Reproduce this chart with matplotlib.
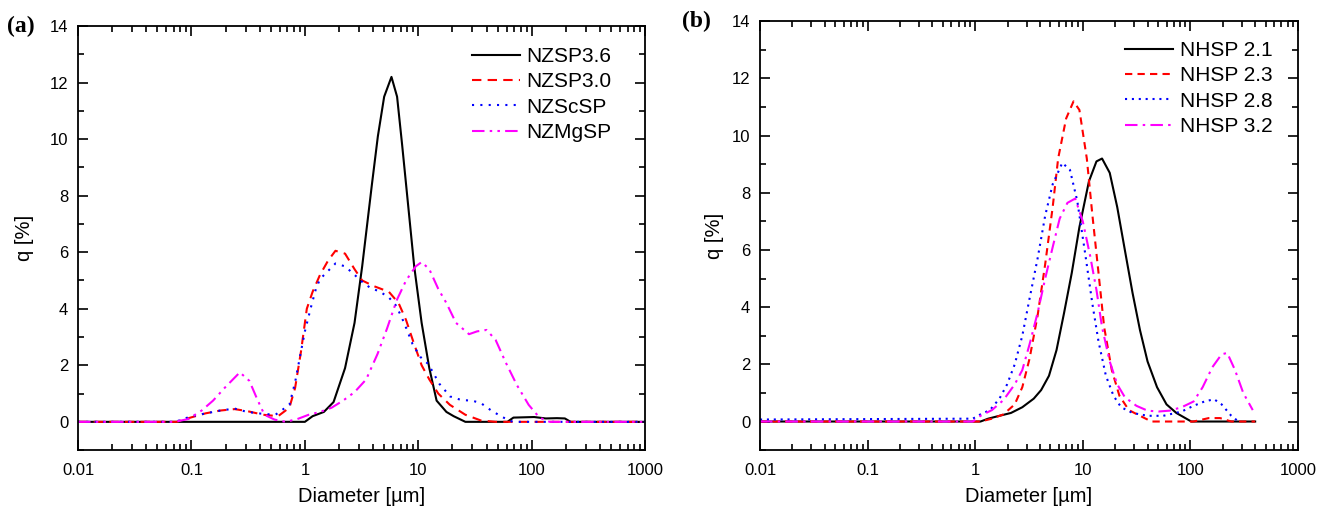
import numpy as np
import matplotlib
matplotlib.use("Agg")
import matplotlib.pyplot as plt
from matplotlib.ticker import FixedLocator, LogLocator, MultipleLocator, FuncFormatter

plt.rcParams['font.family'] = ['Liberation Sans', 'DejaVu Sans']

####################
# Panel (a) values #
####################
nzsp36_d = [0.01, 1.0, 1.17, 1.47, 1.79, 2.26, 2.74, 3.2, 3.9, 4.4, 5.0, 5.8, 6.5, 7.2, 7.8,
            9.2, 10.7, 12.5, 14.5, 17.7, 20.5, 26, 61, 69, 105, 133, 167, 196, 220, 1000]
nzsp36_q = [0, 0, 0.2, 0.35, 0.7, 1.9, 3.5, 5.5, 8.4, 10.1, 11.5, 12.2, 11.5, 9.8, 8.4,
            5.5, 3.5, 1.9, 0.75, 0.35, 0.2, 0, 0, 0.15, 0.17, 0.12, 0.13, 0.12, 0, 0]

nzsp30_d = [0.01, 0.074, 0.098, 0.133, 0.18, 0.24, 0.31, 0.43, 0.58, 0.73, 0.82, 0.925, 1.04,
            1.17, 1.36, 1.6, 1.86, 2.26, 2.74, 3.2, 4.05, 5.5, 6.7, 7.8, 9.1, 10.7, 12.5, 15,
            19, 26, 35.5, 48, 1000]
nzsp30_q = [0, 0, 0.15, 0.3, 0.4, 0.45, 0.38, 0.25, 0.2, 0.5, 1.2, 2.5, 4.0,
            4.6, 5.2, 5.7, 6.05, 5.95, 5.4, 5.0, 4.8, 4.6, 4.2, 3.6, 2.8, 2.0, 1.5, 1.0,
            0.6, 0.25, 0.05, 0, 0]

nzscsp_d = [0.01, 0.072, 0.1, 0.18, 0.24, 0.31, 0.43, 0.55, 0.62, 0.73, 0.82, 0.925, 1.0,
            1.13, 1.25, 1.36, 1.86, 2.26, 2.74, 3.2, 3.74, 4.6, 5.5, 6.4, 7.5, 8.9, 10.4,
            12.2, 13.7, 15.3, 16.5, 19, 24, 30, 36, 44, 55, 68, 1000]
nzscsp_q = [0, 0, 0.2, 0.4, 0.47, 0.35, 0.28, 0.25, 0.4, 0.6, 1.4, 2.5, 3.2,
            4.05, 4.7, 5.05, 5.6, 5.5, 5.2, 4.95, 4.75, 4.6, 4.4, 4.1, 3.5, 2.75, 2.3,
            2.05, 1.7, 1.35, 1.2, 0.9, 0.77, 0.75, 0.65, 0.4, 0.17, 0, 0]

nzmgsp_d = [0.01, 0.071, 0.094, 0.123, 0.155, 0.196, 0.267, 0.324, 0.38, 0.44, 0.54, 0.68,
            0.86, 1.08, 1.36, 1.72, 2.17, 2.74, 3.47, 4.37, 5.3, 6.45, 7.8, 9.5, 10.7, 12.5,
            15, 17.7, 21.5, 28, 33, 40, 48, 59, 74, 94, 117, 144, 1000]
nzmgsp_q = [0, 0, 0.1, 0.4, 0.75, 1.2, 1.75, 1.45, 0.8, 0.25, 0.08, 0,
            0.1, 0.25, 0.35, 0.5, 0.75, 1.05, 1.5, 2.4, 3.3, 4.3, 5.0, 5.5, 5.65, 5.4,
            4.7, 4.2, 3.5, 3.1, 3.2, 3.25, 2.9, 2.1, 1.3, 0.6, 0.15, 0, 0]

####################
# Panel (b) values #
####################
nhsp21_d = [0.01, 1.12, 1.32, 1.68, 2.15, 2.74, 3.5, 4.1, 4.85, 5.7, 6.7, 7.9, 9.3, 11.4, 13.4,
            15.1, 17.8, 20.9, 24.6, 29, 34, 40, 49, 60, 74, 102, 400]
nhsp21_q = [0, 0, 0.1, 0.2, 0.3, 0.5, 0.8, 1.1, 1.6, 2.5, 3.8, 5.2, 6.8, 8.4, 9.1,
            9.2, 8.7, 7.5, 6.0, 4.5, 3.2, 2.1, 1.2, 0.6, 0.3, 0, 0]

nhsp23_d = [0.01, 1.12, 1.43, 1.83, 2.33, 2.74, 3.2, 3.8, 4.47, 5.25, 5.9, 7.0, 8.2, 9.3, 10.9,
            12.3, 14, 15.8, 18.6, 21.9, 26.8, 34, 43.5, 107, 148, 189, 240, 400]
nhsp23_q = [0, 0, 0.1, 0.25, 0.6, 1.2, 2.2, 3.7, 5.5, 7.5, 9.2, 10.6, 11.2, 10.9, 9.2,
            7.2, 5.2, 3.3, 1.8, 0.9, 0.4, 0.2, 0, 0, 0.12, 0.12, 0, 0]

nhsp28_d = [0.01, 0.95, 1.12, 1.37, 1.68, 1.98, 2.33, 2.74, 3.2, 3.8, 4.47, 5.25, 6.45, 7.6,
            8.9, 10.5, 12.3, 14, 16.4, 19.3, 22.7, 29, 40, 56, 83, 107, 135, 166, 195, 240, 280]
nhsp28_q = [0.07, 0.1, 0.25, 0.4, 0.8, 1.3, 2.0, 3.0, 4.3, 5.7, 7.2, 8.3, 9.05, 8.8,
            7.7, 5.9, 4.1, 2.8, 1.6, 0.9, 0.5, 0.3, 0.2, 0.2, 0.35, 0.55, 0.7, 0.78, 0.6, 0.2, 0]

nhsp32_d = [0.01, 0.95, 1.12, 1.43, 1.83, 2.33, 2.74, 3.2, 3.8, 4.47, 5.25, 6.1, 7.2, 8.5,
            10.0, 11.7, 13.4, 15.1, 17.8, 20.9, 24.6, 31.5, 40, 50.5, 64, 83, 107, 130, 160,
            195, 220, 260, 310, 380]
nhsp32_q = [0, 0, 0.2, 0.4, 0.75, 1.3, 1.8, 2.7, 3.8, 5.0, 6.1, 7.1, 7.65, 7.8,
            7.0, 5.8, 4.6, 3.3, 2.1, 1.3, 0.85, 0.55, 0.38, 0.35, 0.38, 0.5, 0.7, 1.2, 1.9,
            2.35, 2.4, 1.8, 1.0, 0.4]

x_ticks = [0.01, 0.1, 1, 10, 100, 1000]

colors = ["black", "red", "blue", "magenta"]
styles_a = ["-", (0, (4.5, 3)), (0, (1, 3)), (0, (6, 2.5, 1.2, 2.5, 1.2, 2.5))]
styles_b = ["-", (0, (3.5, 2.5)), (0, (1, 2.3)), (0, (6, 2.5, 1.2, 2.5))]

panel_a = [(nzsp36_d, nzsp36_q, "NZSP3.6"), (nzsp30_d, nzsp30_q, "NZSP3.0"),
           (nzscsp_d, nzscsp_q, "NZScSP"), (nzmgsp_d, nzmgsp_q, "NZMgSP")]
panel_b = [(nhsp21_d, nhsp21_q, "NHSP 2.1"), (nhsp23_d, nhsp23_q, "NHSP 2.3"),
           (nhsp28_d, nhsp28_q, "NHSP 2.8"), (nhsp32_d, nhsp32_q, "NHSP 3.2")]

fig = plt.figure(figsize=(13.25, 5.15), dpi=100)
ax_a = fig.add_axes([0.0589, 0.126, 0.428, 0.8235])
ax_b = fig.add_axes([0.5736, 0.126, 0.406, 0.8326])

setups = [(ax_a, panel_a, styles_a, "(a)", (0.940, 0.950), -0.078, -0.125),
          (ax_b, panel_b, styles_b, "(b)", (0.952, 0.954), -0.067, -0.145)]

for ax, series, styles, tag, leg_pos, ylab_x, tag_x in setups:
    for (d, q, name), c, ls in zip(series, colors, styles):
        ax.plot(d, q, color=c, linestyle=ls, linewidth=1.5, label=name)
    ax.set_xscale("log")
    ax.set_xlim(0.01, 1000)
    ax.set_ylim(-1, 14)
    ax.xaxis.set_major_locator(FixedLocator(x_ticks))
    ax.xaxis.set_minor_locator(LogLocator(base=10, subs=np.arange(2, 10)))
    ax.xaxis.set_major_formatter(FuncFormatter(lambda v, p: f"{v:g}"))
    ax.yaxis.set_major_locator(MultipleLocator(2))
    ax.yaxis.set_minor_locator(MultipleLocator(1))
    ax.tick_params(which="both", direction="in", top=True, right=True, labelsize=12, width=1.2)
    ax.tick_params(which="major", length=7)
    ax.tick_params(which="minor", length=4)
    ax.tick_params(axis="x", pad=9)
    ax.tick_params(axis="y", pad=7)
    for sp in ax.spines.values():
        sp.set_linewidth(1.3)
    ax.set_xlabel("Diameter [µm]", fontsize=14.5, labelpad=7)
    ax.set_ylabel("q [%]", fontsize=14.5)
    ax.yaxis.set_label_coords(ylab_x, 0.5)
    ax.legend(loc="upper right", bbox_to_anchor=leg_pos, frameon=False, fontsize=15,
              handlelength=2.3, handletextpad=0.3, labelspacing=0.3,
              borderpad=0, borderaxespad=0)
    ax.text(tag_x, 1.0, tag, transform=ax.transAxes, fontsize=17, fontweight="bold",
            family="Liberation Serif", ha="left", va="center")

fig.savefig("out.png", dpi=100)
